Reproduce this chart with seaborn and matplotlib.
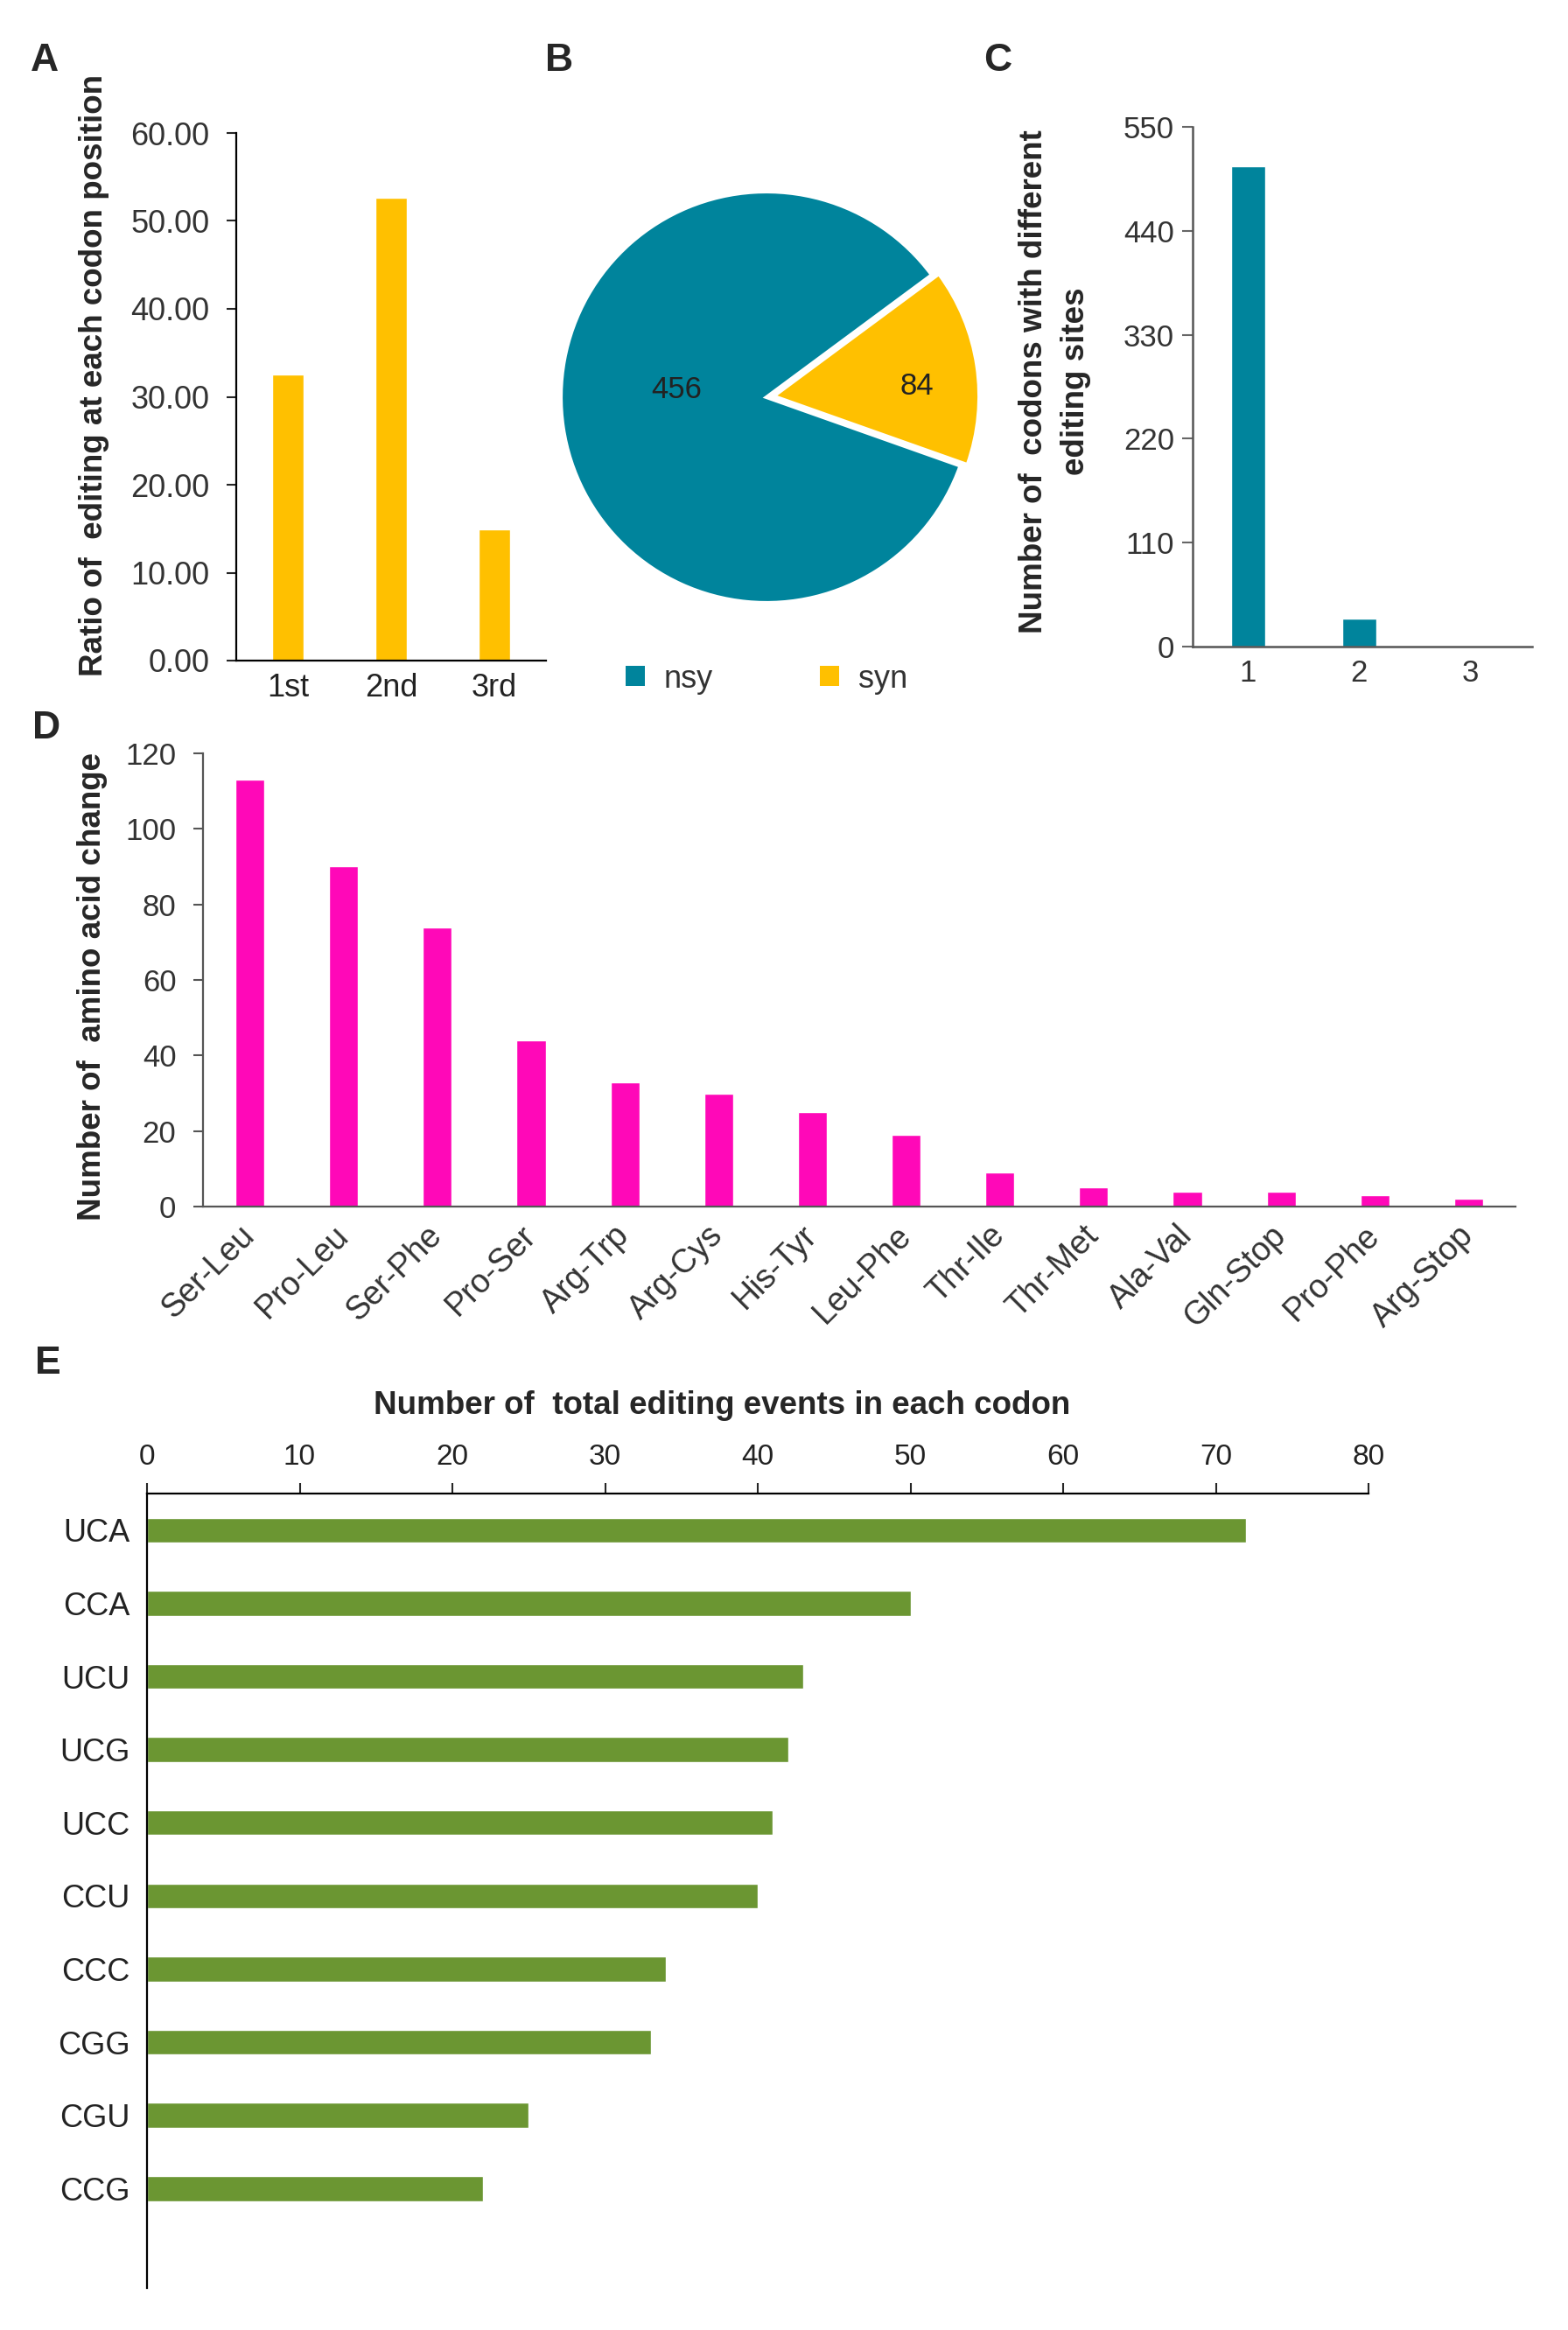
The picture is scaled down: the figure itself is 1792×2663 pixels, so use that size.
import numpy as np
import pandas as pd
import matplotlib
matplotlib.use("Agg")
import matplotlib.pyplot as plt
from matplotlib.patches import Patch
import seaborn as sns

sns.set_theme(style="white")
plt.rcParams['font.family'] = ['Liberation Sans', 'DejaVu Sans']

# ---------------- data ----------------
# A: ratio of editing at each codon position
pos_labels = ['1st', '2nd', '3rd']
pos_ratio = [32.5, 52.6, 14.9]

# B: nsy / syn
pie_labels = ['nsy', 'syn']
pie_counts = [456, 84]

# C: codons with different editing sites
site_labels = ['1', '2', '3']
site_counts = [508, 30, 1]

# D: amino acid changes
aa_labels = ['Ser-Leu', 'Pro-Leu', 'Ser-Phe', 'Pro-Ser', 'Arg-Trp', 'Arg-Cys', 'His-Tyr',
             'Leu-Phe', 'Thr-Ile', 'Thr-Met', 'Ala-Val', 'Gln-Stop', 'Pro-Phe', 'Arg-Stop']
aa_counts = [113, 90, 74, 44, 33, 30, 25, 19, 9, 5, 4, 4, 3, 2]

# E: total editing events per codon
codon_labels = ['UCA', 'CCA', 'UCU', 'UCG', 'UCC', 'CCU', 'CCC', 'CGG', 'CGU', 'CCG']
codon_counts = [72, 50, 43, 42, 41, 40, 34, 33, 25, 22]

GOLD = '#FFC000'
TEAL = '#00849C'
PINK = '#FF08B8'
GREEN = '#6B9632'
LABEL_FS = 26.5

W, H = 1792, 2663
fig = plt.figure(figsize=(W / 100, H / 100), dpi=100)


def box(left, top, right, bottom):
    # pixel box -> figure fraction
    return [left / W, 1 - bottom / H, (right - left) / W, (bottom - top) / H]


# ---------------- A ----------------
axA = fig.add_axes(box(270, 152, 624, 755))
dfA = pd.DataFrame({'pos': pos_labels, 'ratio': pos_ratio})
sns.barplot(data=dfA, x='pos', y='ratio', color=GOLD, saturation=1, width=0.31, ax=axA)
axA.set_xlim(-0.5, 2.5)
axA.set_ylim(0, 60)
axA.set_yticks(np.arange(0, 61, 10))
axA.set_yticklabels([f'{v:.2f}' for v in np.arange(0, 61, 10)])
axA.set_xlabel('')
axA.set_ylabel('Ratio of  editing at each codon position', fontsize=LABEL_FS, fontweight='bold')
axA.yaxis.set_label_coords(-0.41, 0.54)
axA.tick_params(axis='y', direction='out', length=8, width=1.5, pad=14, labelsize=26,
                labelcolor='#333333', left=True)
axA.tick_params(axis='x', length=0, pad=10, labelsize=26, labelcolor='#222222')
sns.despine(ax=axA)
for s in ['left', 'bottom']:
    axA.spines[s].set_color('black')
    axA.spines[s].set_linewidth(1.6)

# ---------------- B ----------------
r_px = 235
cx, cy = 876, 454
side = 2.4 * r_px
axB = fig.add_axes(box(cx - side / 2, cy - side / 2, cx + side / 2, cy + side / 2))
wedges, _ = axB.pie(pie_counts, colors=[TEAL, GOLD], startangle=36.5, counterclock=True,
                    explode=[0, 0.035], wedgeprops=dict(edgecolor='white', linewidth=3))
label_dist = [0.44, 0.70]
label_turn = [-13, -4.5]   # degrees away from the wedge mid-angle
for w, n, d, t in zip(wedges, pie_counts, label_dist, label_turn):
    ang = np.deg2rad((w.theta1 + w.theta2) / 2 + t)
    cx0, cy0 = w.center
    axB.text(cx0 + d * np.cos(ang), cy0 + d * np.sin(ang), str(n), ha='center', va='center',
             fontsize=25, color='#222222')
axB.set_xlim(-1.2, 1.2)
axB.set_ylim(-1.2, 1.2)
axB.set_aspect('equal')
axB.axis('off')
handles = [Patch(facecolor=TEAL, edgecolor='none'), Patch(facecolor=GOLD, edgecolor='none')]
fig.legend(handles, pie_labels, loc='center', bbox_to_anchor=(876 / W, 1 - 776 / H),
           ncol=2, frameon=False, fontsize=26, handlelength=0.6, handleheight=0.6,
           handletextpad=0.6, columnspacing=3.4, labelcolor='#333333')

# ---------------- C ----------------
axC = fig.add_axes(box(1363, 145, 1751, 739))
dfC = pd.DataFrame({'sites': site_labels, 'n': site_counts})
sns.barplot(data=dfC, x='sites', y='n', color=TEAL, saturation=1, width=0.31, ax=axC)
axC.set_xlim(-0.5, 2.56)
axC.set_ylim(0, 550)
axC.set_yticks(np.arange(0, 551, 110))
axC.set_xlabel('')
axC.set_ylabel('Number of  codons with different\nediting sites', fontsize=LABEL_FS,
               fontweight='bold', linespacing=1.45)
axC.yaxis.set_label_coords(-0.30, 0.51)
axC.tick_params(axis='y', direction='out', length=9, width=1.5, pad=6, labelsize=25,
                labelcolor='#333333', color='#666666', left=True)
axC.tick_params(axis='x', length=0, pad=10, labelsize=25, labelcolor='#333333')
sns.despine(ax=axC)
for s in ['left', 'bottom']:
    axC.spines[s].set_color('#555555')
    axC.spines[s].set_linewidth(1.8)

# ---------------- D ----------------
axD = fig.add_axes(box(232, 861, 1732, 1379))
dfD = pd.DataFrame({'change': aa_labels, 'n': aa_counts})
sns.barplot(data=dfD, x='change', y='n', color=PINK, saturation=1, width=0.31, ax=axD)
axD.set_xlim(-0.5, len(aa_labels) - 0.5)
axD.set_ylim(0, 120)
axD.set_yticks(np.arange(0, 121, 20))
axD.set_xticks(range(len(aa_labels)))
axD.set_xticklabels(aa_labels, rotation=45, ha='right', va='center', rotation_mode='anchor')
axD.set_xlabel('')
axD.set_ylabel('Number of  amino acid change', fontsize=LABEL_FS, fontweight='bold')
axD.yaxis.set_label_coords(-0.073, 0.485)
axD.tick_params(axis='y', direction='out', length=8, width=1.5, pad=14, labelsize=25,
                labelcolor='#333333', color='#555555', left=True)
axD.tick_params(axis='x', length=0, pad=20, labelsize=27, labelcolor='#333333')
sns.despine(ax=axD)
for s in ['left', 'bottom']:
    axD.spines[s].set_color('#555555')
    axD.spines[s].set_linewidth(1.6)

# ---------------- E ----------------
axE = fig.add_axes(box(168, 1707, 1564, 2615))
dfE = pd.DataFrame({'codon': codon_labels, 'n': codon_counts})
sns.barplot(data=dfE, x='n', y='codon', orient='h', color=GREEN, saturation=1, width=0.34, ax=axE)
axE.set_xlim(0, 80)
axE.set_ylim(len(codon_labels) + 0.36, -0.5)
axE.set_xticks(np.arange(0, 81, 10))
axE.xaxis.tick_top()
axE.xaxis.set_label_position('top')
axE.set_xlabel('Number of  total editing events in each codon', fontsize=LABEL_FS,
               fontweight='bold')
axE.xaxis.set_label_coords(0.471, 1.10)
axE.set_ylabel('')
axE.tick_params(axis='x', direction='out', length=9, width=1.5, pad=10, labelsize=24,
                labelcolor='#222222', top=True, bottom=False)
axE.tick_params(axis='y', length=0, pad=14, labelsize=26, labelcolor='#222222')
for s in ['right', 'bottom']:
    axE.spines[s].set_visible(False)
for s in ['left', 'top']:
    axE.spines[s].set_color('black')
    axE.spines[s].set_linewidth(1.6)

# ---------------- panel letters ----------------
for letter, (x, y) in {'A': (35, 81), 'B': (623, 81), 'C': (1124, 81),
                       'D': (37, 844), 'E': (40, 1570)}.items():
    fig.text(x / W, 1 - y / H, letter, fontsize=32, fontweight='bold', ha='left', va='baseline')

fig.savefig('out.png', dpi=100, facecolor='white')
